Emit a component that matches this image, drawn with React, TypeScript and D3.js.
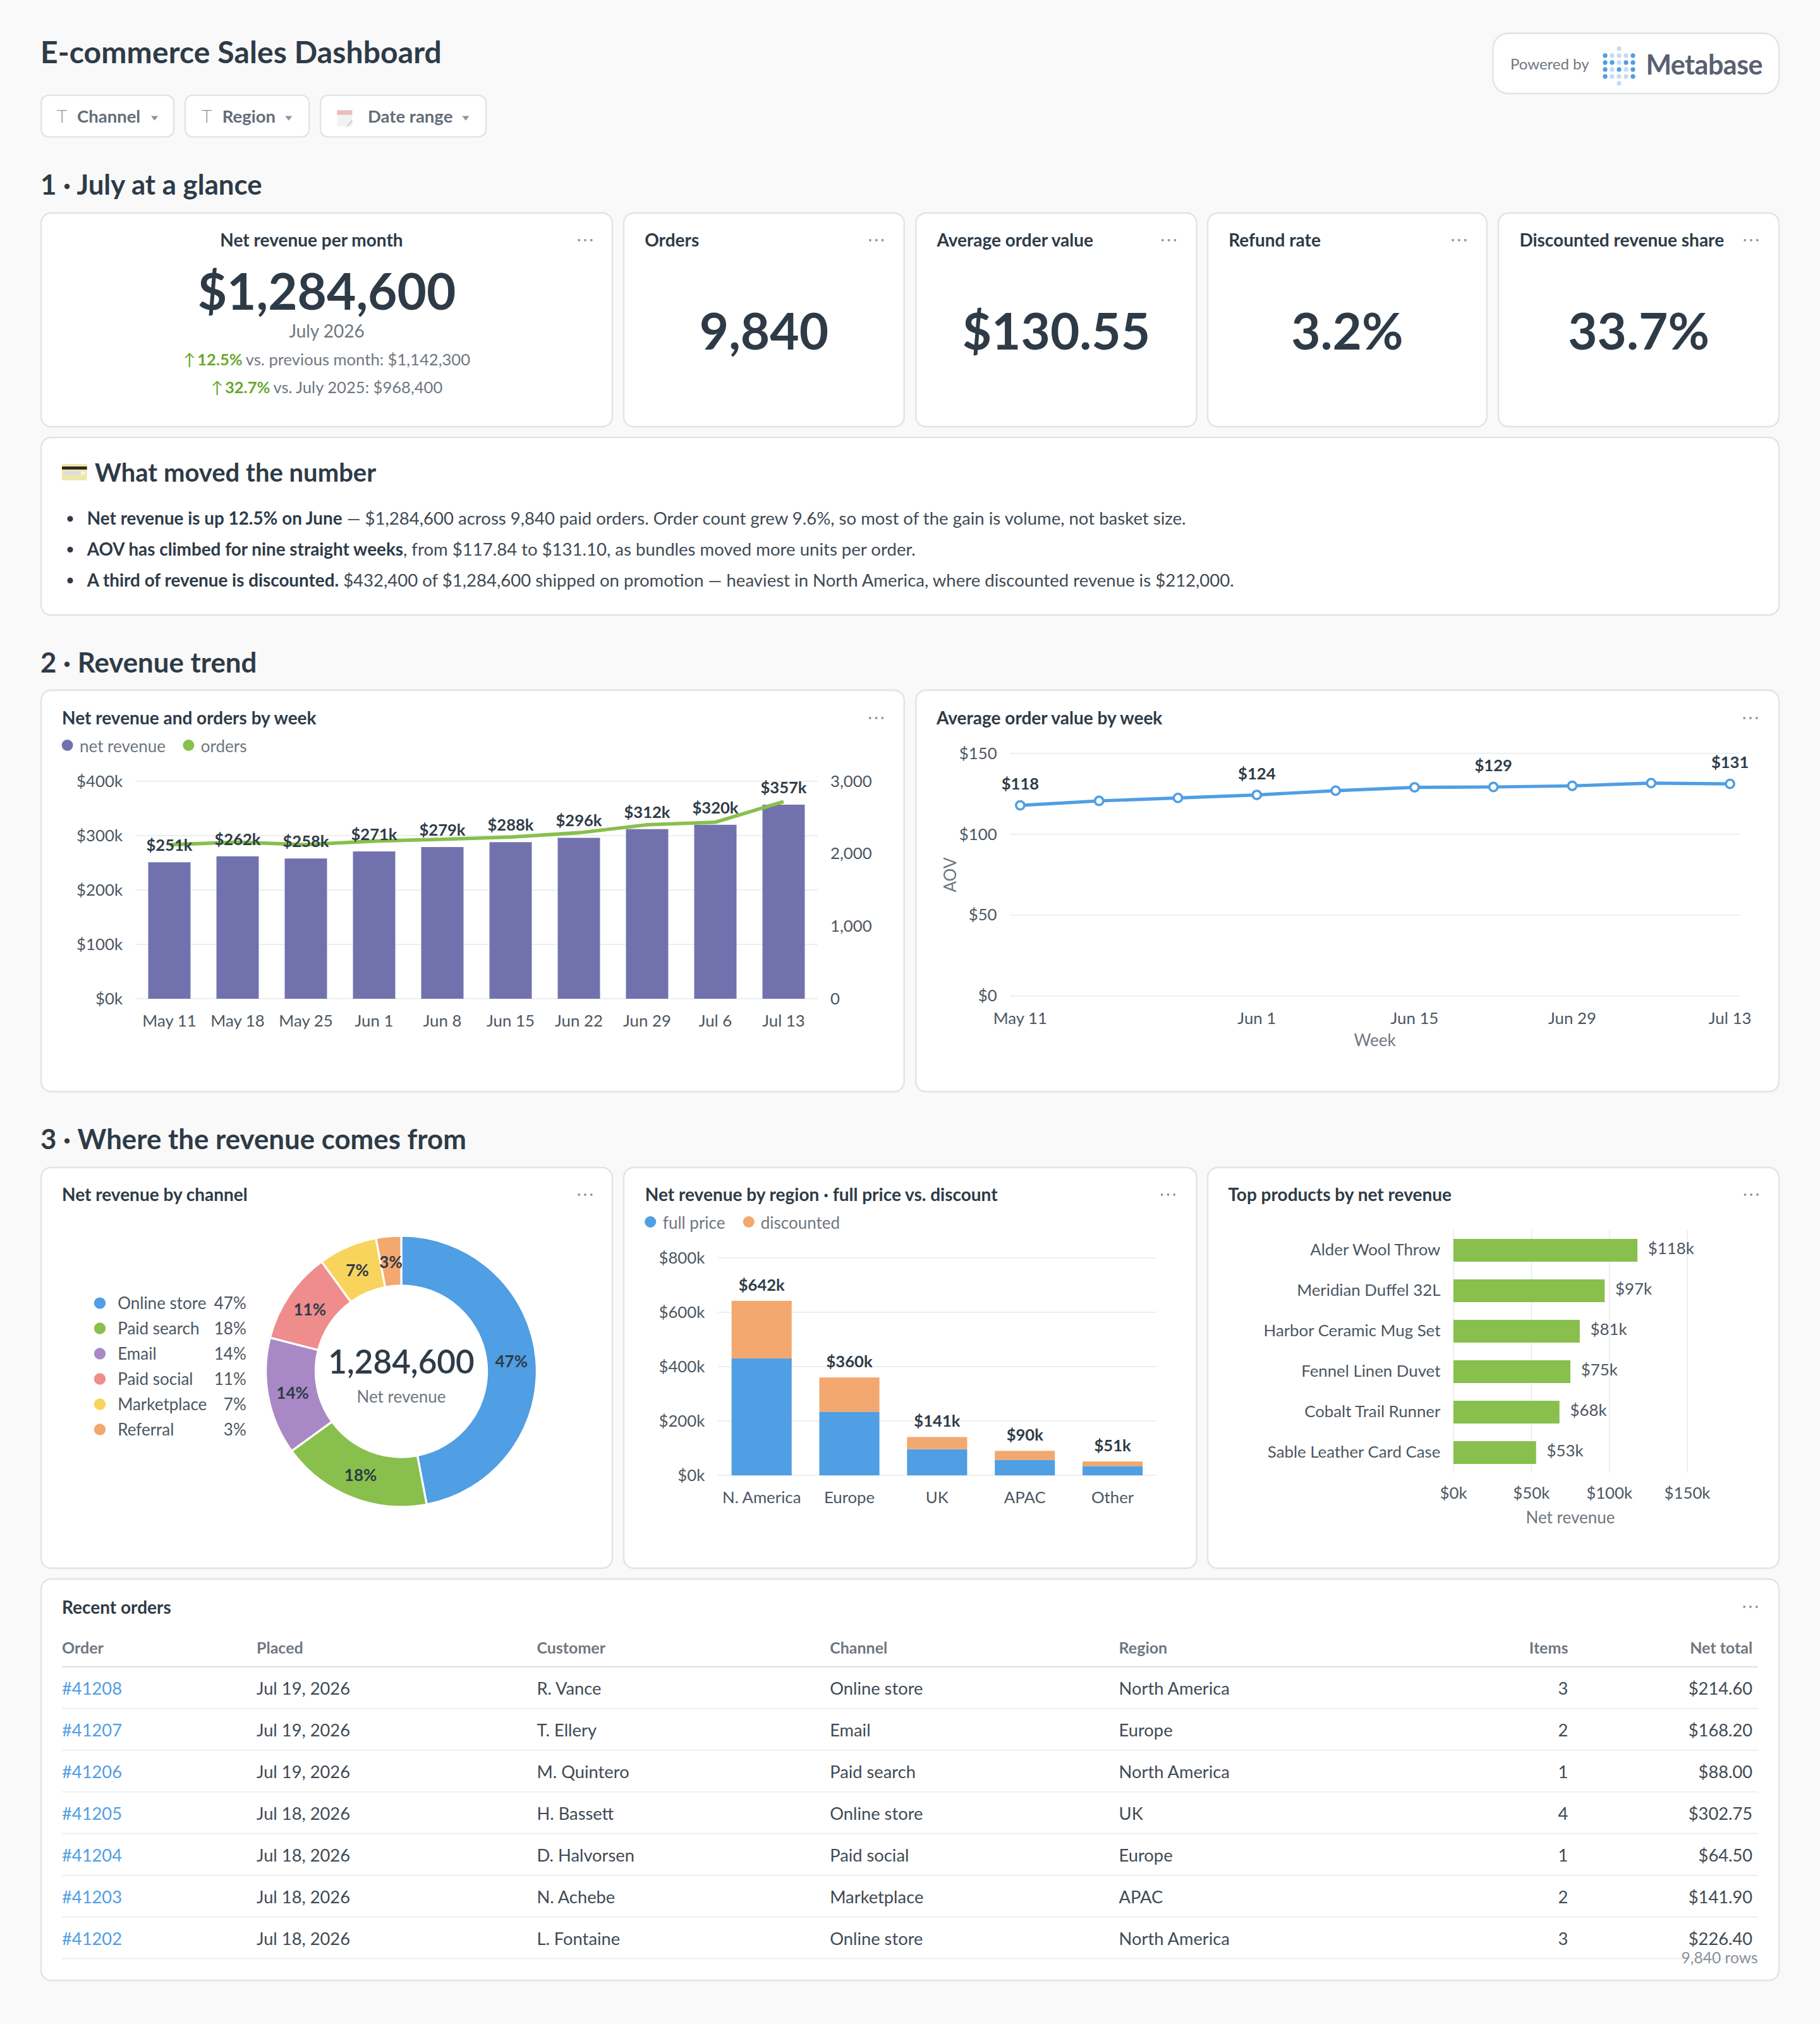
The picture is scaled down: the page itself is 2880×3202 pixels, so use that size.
import React from "react";
import * as d3 from "d3";

// ---------- data ----------
const filters = ["Channel", "Region", "Date range"];
const kpiTitles = ["Orders", "Average order value", "Refund rate", "Discounted revenue share"];
const kpiValues = ["9,840", "$130.55", "3.2%", "33.7%"];

const weekLabels = ["May 11", "May 18", "May 25", "Jun 1", "Jun 8", "Jun 15", "Jun 22", "Jun 29", "Jul 6", "Jul 13"];
const weeklyRevenue = [251, 262, 258, 271, 279, 288, 296, 312, 320, 357];
const weeklyOrders = [2125, 2160, 2125, 2175, 2200, 2230, 2290, 2400, 2435, 2720];
const revenueTicks = [0, 100, 200, 300, 400];
const orderTicks = [0, 1000, 2000, 3000];

const weeklyAov = [117.84, 120.6, 122.4, 124.3, 126.9, 129.0, 129.2, 129.9, 131.6, 131.1];
const aovTicks = [0, 50, 100, 150];
const aovLabelled = [0, 3, 6, 9];
const aovXTicks = [0, 3, 5, 7, 9];

const channels = ["Online store", "Paid search", "Email", "Paid social", "Marketplace", "Referral"];
const channelShare = [47, 18, 14, 11, 7, 3];
const channelColors = ["#509EE3", "#88BF4D", "#A989C5", "#EF8C8C", "#F9D45C", "#F2A86F"];

const regions = ["N. America", "Europe", "UK", "APAC", "Other"];
const regionFull = [430, 234, 96, 57, 34];
const regionDiscounted = [212, 126, 45, 33, 17];
const regionTotals = [642, 360, 141, 90, 51];
const regionTicks = [0, 200, 400, 600, 800];

const products = ["Alder Wool Throw", "Meridian Duffel 32L", "Harbor Ceramic Mug Set", "Fennel Linen Duvet", "Cobalt Trail Runner", "Sable Leather Card Case"];
const productRevenue = [118, 97, 81, 75, 68, 53];
const productTicks = [0, 50, 100, 150];

const tableHeader = ["Order", "Placed", "Customer", "Channel", "Region", "Items", "Net total"];
const orderIds = ["#41208", "#41207", "#41206", "#41205", "#41204", "#41203", "#41202"];
const orderDates = ["Jul 19, 2026", "Jul 19, 2026", "Jul 19, 2026", "Jul 18, 2026", "Jul 18, 2026", "Jul 18, 2026", "Jul 18, 2026"];
const orderCustomers = ["R. Vance", "T. Ellery", "M. Quintero", "H. Bassett", "D. Halvorsen", "N. Achebe", "L. Fontaine"];
const orderChannels = ["Online store", "Email", "Paid search", "Online store", "Paid social", "Marketplace", "Online store"];
const orderRegions = ["North America", "Europe", "North America", "UK", "Europe", "APAC", "North America"];
const orderItems = [3, 2, 1, 4, 1, 2, 3];
const orderTotals = ["$214.60", "$168.20", "$88.00", "$302.75", "$64.50", "$141.90", "$226.40"];

const insightBold = ["Net revenue is up 12.5% on June", "AOV has climbed for nine straight weeks", "A third of revenue is discounted."];
const insightRest = [
  " — $1,284,600 across 9,840 paid orders. Order count grew 9.6%, so most of the gain is volume, not basket size.",
  ", from $117.84 to $131.10, as bundles moved more units per order.",
  " $432,400 of $1,284,600 shipped on promotion — heaviest in North America, where discounted revenue is $212,000.",
];

const logoRows = ["..L..", "DLLLD", "DDLDD", "DLDLD", "DLLLD", "..L.."];

// ---------- styles ----------
const FONT = "Lato, sans-serif";
const DARK = "#2E3B47";
const BODY = "#3F4A54";
const AXIS = "#4C5661";
const GRAY = "#6F7780";
const BORDER = "#E0E4E4";
const GRID = "#EDEFEF";
const PURPLE = "#7172AD";
const GREEN = "#88BF4D";
const BLUE = "#509EE3";
const ORANGE = "#F2A86F";
const LABEL_SIZE = 12.8;
const TICK_SIZE = 12.9;
const TICK_DY = 4.4;
const kStr = (v: number) => `$${v}k`;

function Card({ x0, x1, y0, y1 }: any) {
  return <rect x={x0} y={y0} width={x1 - x0} height={y1 - y0} rx={8} fill="#fff" stroke={BORDER} strokeWidth={1.2} />;
}
function Dots({ x, y }: any) {
  return (
    <g fill="#8E959B">
      {[-4.9, 0, 4.9].map((d) => <circle key={d} cx={x + d} cy={y} r={0.95} />)}
    </g>
  );
}
function CardTitle({ x, y = 573, anchor = "start", children }: any) {
  return <text x={x} y={y} textAnchor={anchor} fontSize={14} fontWeight={700} fill={DARK}>{children}</text>;
}
function Section({ y, children }: any) {
  return <text x={32} y={y} fontSize={21.9} fontWeight={700} fill={DARK}>{children}</text>;
}
function Legend({ items }: any) {
  return (
    <g>
      {items.map((it: any) => (
        <g key={it.label}>
          <circle cx={it.dot} cy={it.y} r={4.5} fill={it.color} />
          <text x={it.text} y={it.y + 5.4} fontSize={13} fill={GRAY}>{it.label}</text>
        </g>
      ))}
    </g>
  );
}

// ---------- header ----------
function Header() {
  const chips = [
    { x0: 32.6, x1: 137.5, tx: 61, icon: 49, tri: 122.3 },
    { x0: 146.5, x1: 244.6, tx: 175.9, icon: 163.5, tri: 228.4 },
    { x0: 253.6, x1: 384.5, tx: 291, icon: 0, tri: 368.5 },
  ];
  return (
    <g>
      <text x={32} y={50} fontSize={24} fontWeight={700} fill={DARK} letterSpacing={0.06}>E-commerce Sales Dashboard</text>
      {chips.map((c, i) => (
        <g key={filters[i]}>
          <rect x={c.x0} y={75.3} width={c.x1 - c.x0} height={33} rx={6} fill="#fff" stroke={BORDER} strokeWidth={1.2} />
          {c.icon ? (
            <text x={c.icon} y={97} textAnchor="middle" fontSize={14} fontWeight={300} fill="#8E959B">T</text>
          ) : (
            <g>
              <rect x={266.7} y={87.2} width={12} height={12.6} fill="#F3F3F3" />
              <rect x={266.7} y={87.2} width={12} height={3.6} fill="#E9BDBD" />
              <path d="M278.7 94.5 L278.7 96.5 L275.5 99.8 L274 99.8 Z" fill="#CFCFCF" />
            </g>
          )}
          <text x={c.tx} y={97.2} fontSize={13.75} fontWeight={700} fill="#646D77">{filters[i]}</text>
          <path d={`M${c.tri - 2.8} 91.8 h5.6 l-2.8 3.6 z`} fill="#8E959B" />
        </g>
      ))}
      <rect x={1181.3} y={26.4} width={226.2} height={47.6} rx={12} fill="#fff" stroke={BORDER} strokeWidth={1.2} />
      <text x={1195} y={55} fontSize={12} fill={GRAY}>Powered by</text>
      {logoRows.map((row, r) =>
        row.split("").map((c, i) =>
          c === "." ? null : (
            <circle key={`${r}-${i}`} cx={1270 + i * 5.5} cy={52.2 + (r - 2.5) * 5.5} r={1.8} fill={c === "D" ? BLUE : "#C5DBF3"} />
          )
        )
      )}
      <text x={1302.2} y={58.8} fontSize={21.5} fontWeight={700} fill="#5A6072" letterSpacing={-0.25}>Metabase</text>
    </g>
  );
}

// ---------- KPI row ----------
function Kpis() {
  const cards = [
    { x0: 493.5, x1: 715.4 },
    { x0: 724.6, x1: 946.8 },
    { x0: 955.5, x1: 1176.4 },
    { x0: 1185.6, x1: 1407.5 },
  ];
  const delta = (y: number, pct: string, rest: string) => (
    <text x={258.5} y={y} textAnchor="middle" fontSize={12.8} fill={GRAY}>
      <tspan fill="#6AA82E">↑</tspan>
      <tspan fill="#6AA82E" fontWeight={700} dx={1.5}>{pct}</tspan>
      <tspan dx={2.5}>{rest}</tspan>
    </text>
  );
  return (
    <g>
      <Card x0={32.5} x1={484.5} y0={168.5} y1={337.5} />
      <CardTitle x={246.5} y={195} anchor="middle">Net revenue per month</CardTitle>
      <Dots x={463} y={190} />
      <text x={258.5} y={245.2} textAnchor="middle" fontSize={40} fontWeight={700} fill={DARK}>$1,284,600</text>
      <text x={258.5} y={267} textAnchor="middle" fontSize={14} fill={GRAY}>July 2026</text>
      {delta(289, "12.5%", "vs. previous month: $1,142,300")}
      {delta(311, "32.7%", "vs. July 2025: $968,400")}
      {cards.map((c, i) => (
        <g key={kpiTitles[i]}>
          <Card x0={c.x0} x1={c.x1} y0={168.5} y1={337.5} />
          <CardTitle x={c.x0 + 16.6} y={195}>{kpiTitles[i]}</CardTitle>
          <Dots x={c.x1 - 22} y={190} />
          <text x={(c.x0 + c.x1) / 2} y={276.4} textAnchor="middle" fontSize={40} fontWeight={700} fill={DARK}>{kpiValues[i]}</text>
        </g>
      ))}
    </g>
  );
}

// ---------- insight ----------
function Insight() {
  return (
    <g>
      <Card x0={32.5} x1={1407.5} y0={346} y1={486.5} />
      <g>
        <rect x={49} y={367} width={19.8} height={13} rx={1} fill="#EFE6AB" />
        <rect x={49} y={369} width={19.8} height={2.4} fill="#2A2A22" />
        <rect x={50.5} y={373} width={12.5} height={2.6} fill="#D5DEEA" />
        <rect x={64} y={373} width={3.4} height={2.6} fill="#F6F4E4" />
      </g>
      <text x={75} y={381} fontSize={20} fontWeight={700} fill={DARK}>What moved the number</text>
      {insightBold.map((b, i) => {
        const y = 415 + i * 24.4;
        return (
          <g key={b}>
            <circle cx={55.5} cy={y - 4.6} r={2.3} fill={DARK} />
            <text x={68.9} y={y} fontSize={13.78} fill={BODY} style={{ whiteSpace: "pre" }}>
              <tspan fontWeight={700} fontSize={13.92} fill={DARK}>{b}</tspan>
              <tspan>{insightRest[i]}</tspan>
            </text>
          </g>
        );
      })}
    </g>
  );
}

// ---------- revenue & orders ----------
function RevenueChart() {
  const x = d3.scaleBand<string>().domain(weekLabels).range([107, 647]).paddingInner(0.38).paddingOuter(0.19);
  const y = d3.scaleLinear().domain([0, 400]).range([790, 618]);
  const yOrders = d3.scaleLinear().domain([0, 3000]).range([790, 618]);
  const mid = (l: string) => (x(l) as number) + x.bandwidth() / 2;
  const line = d3.line<number>().x((_, i) => mid(weekLabels[i])).y((d) => yOrders(d));
  return (
    <g>
      <Card x0={32.5} x1={715.4} y0={546} y1={863.5} />
      <CardTitle x={49}>Net revenue and orders by week</CardTitle>
      <Dots x={693.3} y={568} />
      <Legend items={[
        { label: "net revenue", color: PURPLE, dot: 53.3, text: 63, y: 589.5 },
        { label: "orders", color: GREEN, dot: 149.2, text: 158.9, y: 589.5 },
      ]} />
      {revenueTicks.map((t) => (
        <g key={t}>
          <line x1={107} x2={647} y1={y(t)} y2={y(t)} stroke={GRID} strokeWidth={1} />
          <text x={97} y={y(t) + TICK_DY} textAnchor="end" fontSize={TICK_SIZE} fill={AXIS}>{kStr(t)}</text>
        </g>
      ))}
      {orderTicks.map((t) => (
        <text key={t} x={657} y={yOrders(t) + TICK_DY} fontSize={TICK_SIZE} fill={AXIS}>{d3.format(",")(t)}</text>
      ))}
      {weekLabels.map((l, i) => (
        <g key={l}>
          <rect x={x(l)} y={y(weeklyRevenue[i])} width={x.bandwidth()} height={y(0) - y(weeklyRevenue[i])} fill={PURPLE} />
          <text x={mid(l)} y={812} textAnchor="middle" fontSize={TICK_SIZE} fill={AXIS}>{l}</text>
        </g>
      ))}
      <path d={line(weeklyOrders) as string} fill="none" stroke={GREEN} strokeWidth={2.8} />
      {weekLabels.map((l, i) => (
        <text key={l} x={mid(l)} y={y(weeklyRevenue[i]) - 9} textAnchor="middle" fontSize={LABEL_SIZE} fontWeight={700} fill={DARK}>{kStr(weeklyRevenue[i])}</text>
      ))}
    </g>
  );
}

// ---------- AOV ----------
function AovChart() {
  const x = d3.scalePoint<string>().domain(weekLabels).range([807.2, 1368.8]);
  const y = d3.scaleLinear().domain([0, 150]).range([787.8, 595.9]);
  const line = d3.line<number>().x((_, i) => x(weekLabels[i]) as number).y((d) => y(d));
  return (
    <g>
      <Card x0={724.6} x1={1407.5} y0={546} y1={863.5} />
      <CardTitle x={741}>Average order value by week</CardTitle>
      <Dots x={1385} y={568} />
      {aovTicks.map((t) => (
        <g key={t}>
          <line x1={799} x2={1377} y1={y(t)} y2={y(t)} stroke={GRID} strokeWidth={1} />
          <text x={788.8} y={y(t) + TICK_DY} textAnchor="end" fontSize={TICK_SIZE} fill={AXIS}>${t}</text>
        </g>
      ))}
      <text transform="translate(756.3,692) rotate(-90)" textAnchor="middle" fontSize={13} fill={GRAY}>AOV</text>
      <path d={line(weeklyAov) as string} fill="none" stroke={BLUE} strokeWidth={2.6} />
      {weeklyAov.map((v, i) => (
        <circle key={i} cx={x(weekLabels[i])} cy={y(v)} r={3.3} fill="#fff" stroke={BLUE} strokeWidth={1.8} />
      ))}
      {aovLabelled.map((i) => (
        <text key={i} x={x(weekLabels[i])} y={y(weeklyAov[i]) - 12.4} textAnchor="middle" fontSize={LABEL_SIZE} fontWeight={700} fill={DARK}>${Math.round(weeklyAov[i])}</text>
      ))}
      {aovXTicks.map((i) => (
        <text key={i} x={x(weekLabels[i])} y={809.8} textAnchor="middle" fontSize={TICK_SIZE} fill={AXIS}>{weekLabels[i]}</text>
      ))}
      <text x={1087.8} y={827.6} textAnchor="middle" fontSize={13} fill={GRAY}>Week</text>
    </g>
  );
}

// ---------- donut ----------
function Donut() {
  const cx = 317.5, cy = 1084.7;
  const pie = d3.pie<number>().sort(null).value((d) => d);
  const arc = d3.arc<any>().innerRadius(67.8).outerRadius(107.2);
  const arcs = pie(channelShare);
  return (
    <g>
      <Card x0={32.5} x1={484.5} y0={923.5} y1={1240.5} />
      <CardTitle x={49} y={950}>Net revenue by channel</CardTitle>
      <Dots x={463} y={945} />
      {channels.map((c, i) => {
        const y = 1030.8 + i * 19.98;
        return (
          <g key={c}>
            <circle cx={79} cy={y} r={4.6} fill={channelColors[i]} />
            <text x={93.1} y={y + 4.6} fontSize={13} fill={AXIS}>{c}</text>
            <text x={194.9} y={y + 4.6} textAnchor="end" fontSize={13} fill={AXIS}>{channelShare[i]}%</text>
          </g>
        );
      })}
      <g transform={`translate(${cx},${cy})`}>
        {arcs.map((a, i) => (
          <path key={i} d={arc(a) as string} fill={channelColors[i]} stroke="#fff" strokeWidth={1.6} />
        ))}
        {arcs.map((a, i) => {
          const [lx, ly] = arc.centroid(a);
          return <text key={i} x={lx} y={ly + 5.2} textAnchor="middle" fontSize={13} fontWeight={700} fill={DARK}>{channelShare[i]}%</text>;
        })}
      </g>
      <text x={cx} y={1086.5} textAnchor="middle" fontSize={25.6} fontWeight={600} fill={DARK}>1,284,600</text>
      <text x={cx} y={1109.3} textAnchor="middle" fontSize={13} fill={GRAY}>Net revenue</text>
    </g>
  );
}

// ---------- region stack ----------
function RegionChart() {
  const x = d3.scaleBand<string>().domain(regions).range([567.9, 915]).paddingInner(0.315).paddingOuter(0.1575);
  const y = d3.scaleLinear().domain([0, 800]).range([1167, 995]);
  const rows = regions.map((r, i) => ({ region: r, full: regionFull[i], discounted: regionDiscounted[i] }));
  const series = d3.stack<any>().keys(["full", "discounted"])(rows);
  const colors = [BLUE, ORANGE];
  return (
    <g>
      <Card x0={493.5} x1={946.8} y0={923.5} y1={1240.5} />
      <CardTitle x={510.4} y={950}>Net revenue by region · full price vs. discount</CardTitle>
      <Dots x={924.2} y={945} />
      <Legend items={[
        { label: "full price", color: BLUE, dot: 514.6, text: 524.4, y: 966.5 },
        { label: "discounted", color: ORANGE, dot: 592.4, text: 601.9, y: 966.5 },
      ]} />
      {regionTicks.map((t) => (
        <g key={t}>
          <line x1={567.9} x2={915} y1={y(t)} y2={y(t)} stroke={GRID} strokeWidth={1} />
          <text x={557.7} y={y(t) + TICK_DY} textAnchor="end" fontSize={TICK_SIZE} fill={AXIS}>{kStr(t)}</text>
        </g>
      ))}
      {series.map((s, si) =>
        s.map((d, i) => (
          <rect key={`${si}-${i}`} x={x(regions[i])} y={y(d[1])} width={x.bandwidth()} height={y(d[0]) - y(d[1])} fill={colors[si]} />
        ))
      )}
      {regions.map((r, i) => {
        const m = (x(r) as number) + x.bandwidth() / 2;
        return (
          <g key={r}>
            <text x={m} y={y(regionFull[i] + regionDiscounted[i]) - 8} textAnchor="middle" fontSize={LABEL_SIZE} fontWeight={700} fill={DARK}>{kStr(regionTotals[i])}</text>
            <text x={m} y={1189} textAnchor="middle" fontSize={TICK_SIZE} fill={AXIS}>{r}</text>
          </g>
        );
      })}
    </g>
  );
}

// ---------- products ----------
function ProductChart() {
  const x = d3.scaleLinear().domain([0, 150]).range([1150, 1335]);
  const y = d3.scaleBand<string>().domain(products).range([973, 1165]).paddingInner(0.4375).paddingOuter(0.21875);
  return (
    <g>
      <Card x0={955.5} x1={1407.5} y0={923.5} y1={1240.5} />
      <CardTitle x={971.7} y={950}>Top products by net revenue</CardTitle>
      <Dots x={1385.6} y={945} />
      {productTicks.map((t) => (
        <g key={t}>
          <line x1={x(t)} x2={x(t)} y1={973} y2={1165} stroke={GRID} strokeWidth={1} />
          <text x={x(t)} y={1185.6} textAnchor="middle" fontSize={TICK_SIZE} fill={AXIS}>{kStr(t)}</text>
        </g>
      ))}
      {products.map((p, i) => {
        const top = y(p) as number;
        const m = top + y.bandwidth() / 2;
        return (
          <g key={p}>
            <rect x={x(0)} y={top} width={x(productRevenue[i]) - x(0)} height={y.bandwidth()} fill={GREEN} />
            <text x={1139.7} y={m + 4.2} textAnchor="end" fontSize={TICK_SIZE} fill={AXIS}>{p}</text>
            <text x={x(productRevenue[i]) + 8.4} y={m + 3} fontSize={TICK_SIZE} fill={AXIS}>{kStr(productRevenue[i])}</text>
          </g>
        );
      })}
      <text x={1242.5} y={1205} textAnchor="middle" fontSize={13} fill={GRAY}>Net revenue</text>
    </g>
  );
}

// ---------- table ----------
function OrdersTable() {
  const colX = [49, 203, 424.7, 656.6, 885.3, 1240.7, 1386.6];
  const anchors = ["start", "start", "start", "start", "start", "end", "end"];
  const rowY = d3.scaleLinear().domain([0, 1]).range([1340.3, 1373.3]);
  const ruleY = d3.scaleLinear().domain([0, 1]).range([1351.4, 1384.4]);
  const columns: any[][] = [orderIds, orderDates, orderCustomers, orderChannels, orderRegions, orderItems, orderTotals];
  return (
    <g>
      <Card x0={32.5} x1={1407.5} y0={1249} y1={1566.5} />
      <CardTitle x={49} y={1276.5}>Recent orders</CardTitle>
      <Dots x={1385} y={1271} />
      {tableHeader.map((h, i) => (
        <text key={h} x={colX[i]} y={1308} textAnchor={anchors[i]} fontSize={12.5} fontWeight={700} fill={GRAY}>{h}</text>
      ))}
      <line x1={49} x2={1390.8} y1={1318.5} y2={1318.5} stroke={BORDER} strokeWidth={1.2} />
      {orderIds.map((id, r) => (
        <g key={id}>
          {columns.map((col, c) => (
            <text key={c} x={colX[c]} y={rowY(r)} textAnchor={anchors[c]} fontSize={13.65} fill={c === 0 ? BLUE : BODY}>{col[r]}</text>
          ))}
          <line x1={49} x2={1390.8} y1={ruleY(r)} y2={ruleY(r)} stroke={GRID} strokeWidth={1} />
        </g>
      ))}
      <text x={1390.8} y={1553} textAnchor="end" fontSize={12.3} fill="#8A9199">9,840 rows</text>
    </g>
  );
}

export default function App() {
  return (
    <svg
      viewBox="0 0 1440 1601"
      width={2880}
      height={3202}
      style={{ position: "absolute", left: 0, top: 0, display: "block", background: "#F9F9F9", fontFamily: FONT }}
    >
      <Header />
      <Section y={154}>1 · July at a glance</Section>
      <Kpis />
      <Insight />
      <Section y={532}>2 · Revenue trend</Section>
      <RevenueChart />
      <AovChart />
      <Section y={909}>3 · Where the revenue comes from</Section>
      <Donut />
      <RegionChart />
      <ProductChart />
      <OrdersTable />
    </svg>
  );
}
